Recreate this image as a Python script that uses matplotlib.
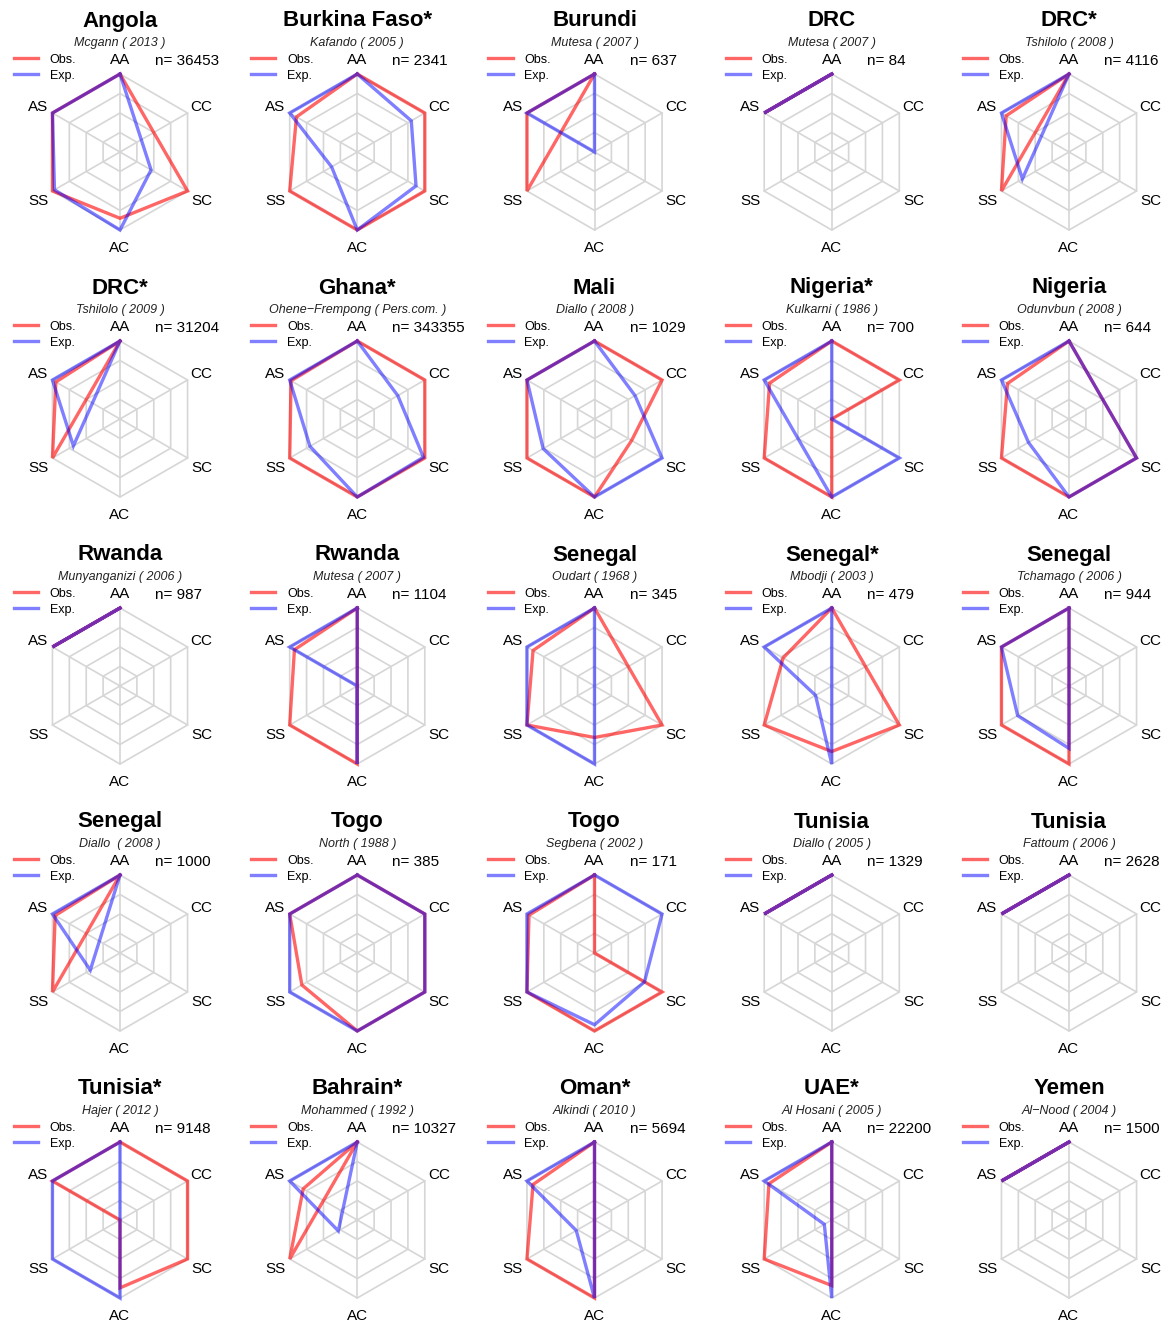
#!/usr/bin/env python

''' Radar (spider) charts of observed vs expected genotype frequencies,
one panel per study. Missing values (nan) are skipped and the line joins
the nearest neighbours, like na.itp in fmsb. '''

import numpy as np
import matplotlib
matplotlib.use("Agg")
import matplotlib.pyplot as plt

plt.rcParams['font.family'] = ['Liberation Sans', 'DejaVu Sans']

##### DATA ######
# spokes, counter-clockwise starting at the top
spokes = ["AA", "AS", "SS", "AC", "SC", "CC"]

countries = ["Angola", "Burkina Faso*", "Burundi", "DRC", "DRC*",
             "DRC*", "Ghana*", "Mali", "Nigeria*", "Nigeria",
             "Rwanda", "Rwanda", "Senegal", "Senegal*", "Senegal",
             "Senegal", "Togo", "Togo", "Tunisia", "Tunisia",
             "Tunisia*", "Bahrain*", "Oman*", "UAE*", "Yemen"]

studies = ["Mcgann ( 2013 )", "Kafando ( 2005 )", "Mutesa ( 2007 )", "Mutesa ( 2007 )", "Tshilolo ( 2008 )",
           "Tshilolo ( 2009 )", "Ohene\u2212Frempong ( Pers.com. )", "Diallo ( 2008 )", "Kulkarni ( 1986 )", "Odunvbun ( 2008 )",
           "Munyanganizi ( 2006 )", "Mutesa ( 2007 )", "Oudart ( 1968 )", "Mbodji ( 2003 )", "Tchamago ( 2006 )",
           "Diallo  ( 2008 )", "North ( 1988 )", "Segbena ( 2002 )", "Diallo ( 2005 )", "Fattoum ( 2006 )",
           "Hajer ( 2012 )", "Mohammed ( 1992 )", "Alkindi ( 2010 )", "Al Hosani ( 2005 )", "Al\u2212Nood ( 2004 )"]

n_sizes = [36453, 2341, 637, 84, 4116,
           31204, 343355, 1029, 700, 644,
           987, 1104, 345, 479, 944,
           1000, 385, 171, 1329, 2628,
           9148, 10327, 5694, 22200, 1500]

nan = np.nan
# scaled values, order AA, AS, SS, AC, SC, CC
observed = [
    [1, 1, 1, 0.85, 1, nan],
    [1, 0.90, 1, 1, 1, 1],
    [1, 1, 1, nan, nan, nan],
    [1, 1, nan, nan, nan, nan],
    [1, 0.93, 1, nan, nan, nan],
    [1, 0.95, 1, nan, nan, nan],
    [1, 0.98, 1, 1, 1, 1],
    [1, 1, 1, 1, 0.55, 1],
    [1, 0.92, 1, 1, 0, 1],
    [1, 0.91, 1, 1, 1, nan],
    [1, 1, nan, nan, nan, nan],
    [1, 0.93, 1, 1, 0, 0],
    [1, 0.91, 1, 0.66, 1, nan],
    [1, 0.72, 1, 0.84, 1, nan],
    [1, 1, 1, 1, 0, 0],
    [1, 0.96, 1, nan, nan, nan],
    [1, 1, 0.82, 1, 1, 1],
    [1, 0.97, 1, 1, 1, 0],
    [1, 1, nan, nan, nan, nan],
    [1, 1, nan, nan, nan, nan],
    [1, 1, 0, 0.87, 1, 1],
    [1, 0.80, 1, nan, nan, nan],
    [1, 0.91, 1, 1, 0, 0],
    [1, 0.93, 1, 0.84, 0, 0],
    [1, 1, nan, nan, nan, nan],
]

expected = [
    [1, 1, 0.97, 1, 0.46, nan],
    [1, 1, 0.38, 1, 0.87, 0.80],
    [1, 1, 0, 0, 0, 0],
    [1, 1, nan, nan, nan, nan],
    [1, 1, 0.69, nan, nan, nan],
    [1, 1, 0.69, nan, nan, nan],
    [1, 1, 0.70, 1, 0.98, 0.60],
    [1, 1, 0.76, 1, 1, 0.60],
    [1, 1, nan, 1, 1, 0],
    [1, 1, 0.60, 1, 1, nan],
    [1, 1, nan, nan, nan, nan],
    [1, 1, 0, 1, 0, 0],
    [1, 1, 1, 1, 0, 0],
    [1, 1, 0.24, 1, 0, 0],
    [1, 1, 0.76, 0.80, 0, 0],
    [1, 1, 0.44, nan, nan, nan],
    [1, 1, 1, 1, 1, 1],
    [1, 1, 1, 0.92, 0.74, 1],
    [1, 1, nan, nan, nan, nan],
    [1, 1, nan, nan, nan, nan],
    [1, 1, 1, 1, 0, 0],
    [1, 1, 0.28, nan, nan, nan],
    [1, 1, 0.27, 1, 0, 0],
    [1, 1, 0.11, 1, 0, 0],
    [1, 1, nan, nan, nan, nan],
]
########################

grid_levels = [0.25, 0.5, 0.75, 1.0]
obs_col = (1, 0, 0, 0.6)
exp_col = (0, 0, 1, 0.5)
grid_col = '#d6d6d6'

# figure geometry in pixels
W, H = 1170, 1323
cell_w, cell_h = 237.25, 267.0
pix = 78.0      # pixels per unit radius
top_off = 152.0  # from cell top to hexagon centre
shift = 2.0 / pix  # text sits a touch lower than its nominal centre

ang = np.deg2rad(90 + 60 * np.arange(6))


def polygon(vals):
    ''' keep non-nan points and close the ring '''
    vals = np.asarray(vals, dtype=float)
    keep = ~np.isnan(vals)
    x = vals[keep] * np.cos(ang[keep])
    y = vals[keep] * np.sin(ang[keep])
    return np.append(x, x[0]), np.append(y, y[0])


fig = plt.figure(figsize=(W / 100, H / 100), dpi=100)

for k in range(len(countries)):
    row, col = divmod(k, 5)
    cx = 120 + col * cell_w
    cy = top_off + row * cell_h
    left = (cx - cell_w / 2) / W
    bottom = 1 - (cy - top_off + cell_h) / H
    ax = fig.add_axes([left, bottom, cell_w / W, cell_h / H])
    ax.set_xlim(-cell_w / 2 / pix, cell_w / 2 / pix)
    ax.set_ylim(-(cell_h - top_off) / pix, top_off / pix)
    ax.axis('off')

    # web
    for lv in grid_levels:
        gx = np.append(lv * np.cos(ang), lv * np.cos(ang[0]))
        gy = np.append(lv * np.sin(ang), lv * np.sin(ang[0]))
        ax.plot(gx, gy, color=grid_col, lw=1.2, zorder=1)
    for a in ang:
        ax.plot([0, np.cos(a)], [0, np.sin(a)], color=grid_col, lw=1.2, zorder=1)

    # series
    ox, oy = polygon(observed[k])
    ax.plot(ox, oy, color=obs_col, lw=2.4, zorder=3, solid_joinstyle='miter')
    ex, ey = polygon(expected[k])
    ax.plot(ex, ey, color=exp_col, lw=2.4, zorder=4, solid_joinstyle='miter')

    # spoke labels
    for a, lab in zip(ang, spokes):
        ax.text(1.21 * np.cos(a), 1.21 * np.sin(a) - shift, lab, ha='center', va='center', fontsize=11)

    # titles
    ax.text(0, (top_off - 21) / pix, countries[k], ha='center', va='center',
            fontsize=16, fontweight='bold')
    ax.text(0, (top_off - 43) / pix, studies[k], ha='center', va='center',
            fontsize=9, style='italic', color='#222222')
    ax.text(0.45, (top_off - 61) / pix, 'n= ' + str(n_sizes[k]), ha='left', va='center', fontsize=11)

    # small legend
    for j, (lab, c) in enumerate([('Obs.', obs_col), ('Exp.', exp_col)]):
        ly = (top_off - 58 - 16 * j) / pix
        ax.plot([-1.36, -1.05], [ly, ly], color=c, lw=2.4)
        ax.text(-0.9, ly - shift, lab, ha='left', va='center', fontsize=9)

fig.savefig('out.png', dpi=100)
